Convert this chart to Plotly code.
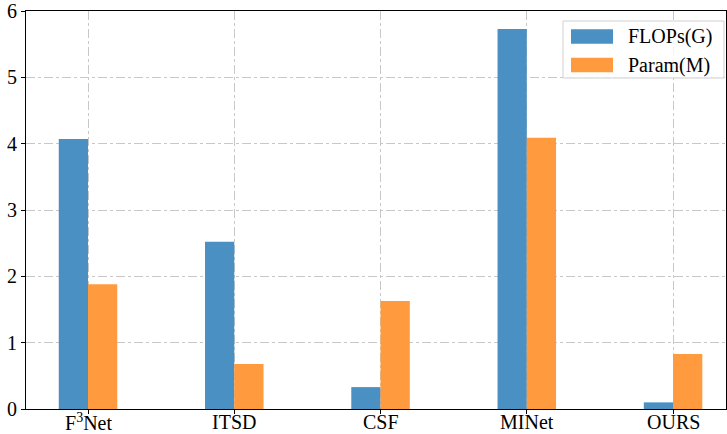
import plotly.graph_objects as go

categories = ["F<sup>3</sup>Net", "ITSD", "CSF", "MINet", "OURS"]
flops = [4.07, 2.52, 0.33, 5.73, 0.10]
params = [1.88, 0.68, 1.63, 4.09, 0.83]
series_names = ["FLOPs(G)", "Param(M)"]
colors = ["#4a90c2", "#ff9a3f"]

x = list(range(len(categories)))
w = 0.2
font = dict(family="Liberation Serif, Times New Roman, serif", size=20, color="black")

fig = go.Figure()
fig.add_trace(go.Bar(x=x, y=flops, width=w, offset=-w, marker=dict(color=colors[0], line=dict(width=0)), name=series_names[0]))
fig.add_trace(go.Bar(x=x, y=params, width=w, offset=0, marker=dict(color=colors[1], line=dict(width=0)), name=series_names[1]))

L, R, T, B = 26, 1, 11, 25
fig.update_layout(
    width=727, height=434,
    margin=dict(l=L, r=R, t=T, b=B),
    paper_bgcolor="white", plot_bgcolor="white",
    showlegend=False, barmode="overlay", font=font,
)
fig.update_xaxes(
    range=[-0.424, 4.362], tickmode="array", tickvals=x, showticklabels=False,
    showline=True, linecolor="black", linewidth=1, mirror=True,
    ticks="outside", ticklen=4, tickcolor="black",
    showgrid=True, gridcolor="#c8c8c8", griddash="dashdot", gridwidth=1,
    zeroline=False, automargin=False,
)
fig.update_yaxes(
    range=[0, 6], tickmode="array", tickvals=[0, 1, 2, 3, 4, 5, 6],
    showline=True, linecolor="black", linewidth=1, mirror=True,
    ticks="outside", ticklen=4, tickcolor="black",
    showgrid=True, gridcolor="#c8c8c8", griddash="dashdot", gridwidth=1,
    zeroline=False, tickfont=font, automargin=False,
)

# x tick labels placed by the x axis
for xi, lab in zip(x, categories):
    fig.add_annotation(xref="x", yref="paper", x=xi, y=0, yshift=-13,
                       text=lab, showarrow=False, xanchor="center", yanchor="middle",
                       font=font)

# custom legend (matplotlib style)
pw = 727 - L - R
ph = 434 - T - B
def px(xp):
    return (xp - L) / pw
def py(yp):
    return (434 - B - yp) / ph

fig.add_shape(type="rect", xref="paper", yref="paper",
              x0=px(563), x1=px(724), y0=py(78), y1=py(21),
              line=dict(color="#d0d0d0", width=1), fillcolor="rgba(255,255,255,0.8)", layer="above")
for i, (nm, c) in enumerate(zip(series_names, colors)):
    yc = 36.5 + i * 28.5
    fig.add_shape(type="rect", xref="paper", yref="paper",
                  x0=px(571), x1=px(613), y0=py(yc + 7.3), y1=py(yc - 7.3),
                  line=dict(width=0), fillcolor=c, layer="above")
    fig.add_annotation(xref="paper", yref="paper", x=px(626), y=py(yc),
                       text=nm, showarrow=False, xanchor="left", yanchor="middle", font=font)

fig.write_html("out.html", config={"displayModeBar": False},
               post_script="document.body.style.margin='0';document.body.style.overflow='hidden';")
